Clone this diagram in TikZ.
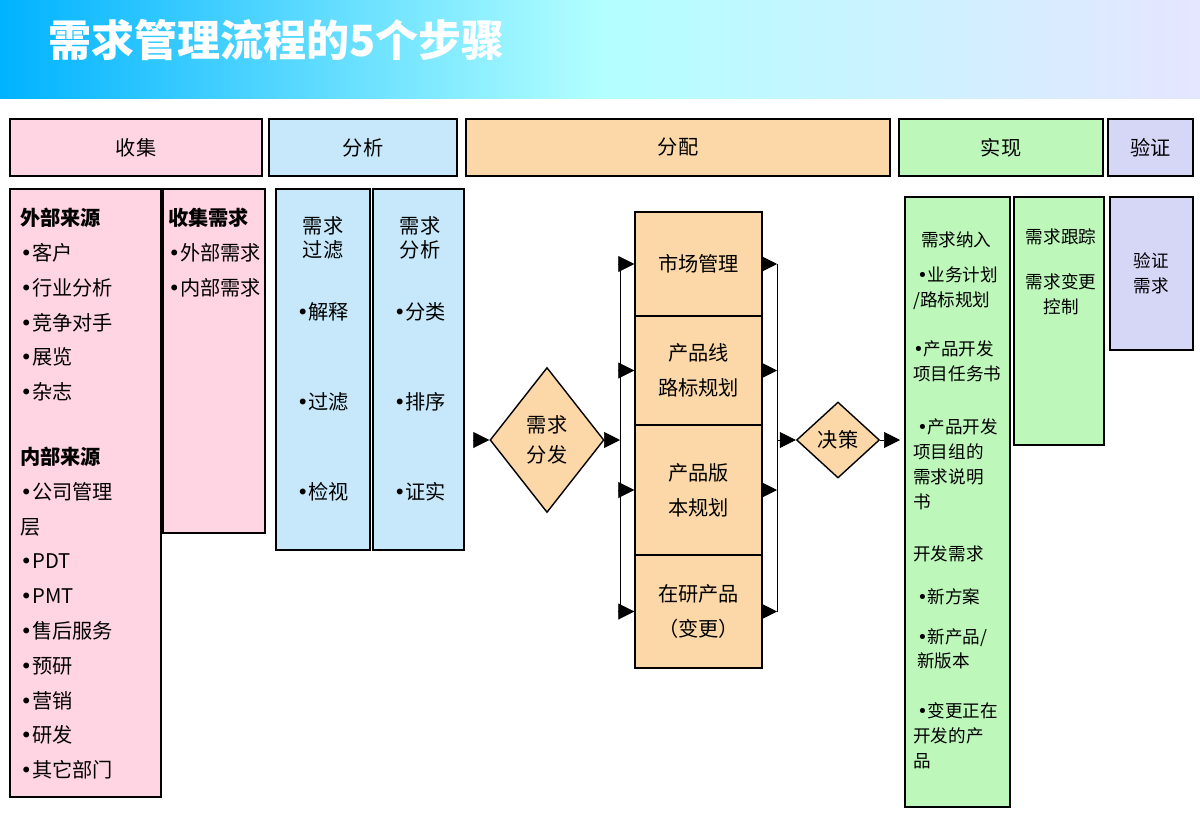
\documentclass[tikz,border=0pt]{standalone}
\usepackage{fontspec}
\setmainfont{Noto Sans CJK SC}
\newfontfamily\dvfont{DejaVu Sans}
\newcommand{\bul}{{\dvfont •}}
\usetikzlibrary{shapes.geometric,arrows.meta}

\definecolor{pinkbox}{HTML}{FFD5E3}
\definecolor{bluebox}{HTML}{C6E8FA}
\definecolor{peachbox}{HTML}{FCD8A8}
\definecolor{greenbox}{HTML}{BDF7BA}
\definecolor{lilacbox}{HTML}{D6D6F7}

\tikzset{
  box/.style={draw, thick, rectangle, inner sep=0pt},
  stepbox/.style={box, minimum height=1.14cm, font=\fontsize{11.5}{14}\selectfont},
  txt/.style={inner sep=0pt, font=\fontsize{11.5}{19.8}\selectfont},
  smalltxt/.style={inner sep=0pt, font=\fontsize{10}{14.2}\selectfont},
  decide/.style={draw, thick, diamond, inner sep=0pt, fill=peachbox, font=\fontsize{11.5}{19}\selectfont},
  flow/.style={->, >={Triangle[length=3.2mm,width=3.2mm]}}
}

\begin{document}
\begin{tikzpicture}[x=0.02cm, y=-0.02cm]
  \useasboundingbox (0,0) rectangle (1200,822);
  % title band
  \shade[left color=cyan!70!blue, right color=blue!10!white, middle color=cyan!30!white] (0,0) rectangle (1200,98);
  \node (title) [anchor=west, text=white, inner sep=0pt, font=\fontsize{24.5}{28}\selectfont\bfseries] at (48,40) {需求管理流程的5个步骤};

  % step headers
  \node (collect) [stepbox, fill=pinkbox, minimum width=5.04cm] at (136,147.5) {收集};
  \node (analyse) [stepbox, fill=bluebox, minimum width=3.76cm] at (363,147.5) {分析};
  \node (assign) [stepbox, fill=peachbox, minimum width=8.48cm] at (678,147.5) {分配};
  \node (realise) [stepbox, fill=greenbox, minimum width=4.08cm] at (1001,147.5) {实现};
  \node (verify) [stepbox, fill=lilacbox, minimum width=1.7cm] at (1150.5,147.5) {验证};

  % collect
  \node (extbox) [box, fill=pinkbox, minimum width=3.02cm, minimum height=12.16cm] at (85.5,493) {};
  \node (exttxt) [txt, anchor=north west, align=left] at (20,208) {\textbf{外部来源}\\\bul 客户\\\bul 行业分析\\\bul 竞争对手\\\bul 展览\\\bul 杂志\\[0.6cm]\textbf{内部来源}\\\bul 公司管理\\层\\\bul PDT\\\bul PMT\\\bul 售后服务\\\bul 预研\\\bul 营销\\\bul 研发\\\bul 其它部门};
  \node (collbox) [box, fill=pinkbox, minimum width=2.04cm, minimum height=6.88cm] at (214,361) {};
  \node (colltxt) [txt, anchor=north west, align=left] at (168,208) {\textbf{收集需求}\\\bul 外部需求\\\bul 内部需求};

  % analyse
  \node (filtbox) [box, fill=bluebox, minimum width=1.88cm, minimum height=7.22cm] at (323,369.5) {};
  \node (filttxt) [txt, anchor=north, align=center, font=\fontsize{11.5}{14}\selectfont] at (323,216) {需求\\过滤\\[0.75cm]\bul 解释\\[1.3cm]\bul 过滤\\[1.3cm]\bul 检视};
  \node (analbox) [box, fill=bluebox, minimum width=1.82cm, minimum height=7.22cm] at (418.5,369.5) {};
  \node (analtxt) [txt, anchor=north, align=center, font=\fontsize{11.5}{14}\selectfont] at (420,216) {需求\\分析\\[0.75cm]\bul 分类\\[1.3cm]\bul 排序\\[1.3cm]\bul 证实};

  % assign
  \node (dispatch) [decide, minimum width=2.28cm, minimum height=2.9cm, align=center] at (547,440) {需求\\[-2pt]分发};
  \node (market) [box, fill=peachbox, minimum width=2.54cm, minimum height=2.08cm, txt, align=center] at (698.5,264) {市场管理};
  \node (roadmap) [box, fill=peachbox, minimum width=2.54cm, minimum height=2.18cm, txt, align=center] at (698.5,370.5) {产品线\\路标规划};
  \node (release) [box, fill=peachbox, minimum width=2.54cm, minimum height=2.6cm, txt, align=center] at (698.5,490) {产品版\\本规划};
  \node (ongoing) [box, fill=peachbox, minimum width=2.54cm, minimum height=2.26cm, txt, align=center] at (698.5,611.5) {在研产品\\（变更）};
  \node (decision) [decide, minimum width=1.66cm, minimum height=1.52cm] at (838,440) {决策};

  \coordinate (inL) at (478,440);
  \coordinate (busL) at (620,440);
  \coordinate (busR) at (777,440);
  \coordinate (outR) at (900,440);

  % arrows
  \draw[flow] (inL) -- (dispatch.west);
  \draw[flow] (dispatch.east) -- (busL);
  \draw (busL |- market.west) -- (busL |- ongoing.west);
  \draw (busR |- market.east) -- (busR |- ongoing.east);
  \foreach \b in {market, roadmap, release, ongoing} {
    \draw[flow] (busL |- \b.west) -- (\b.west);
    \draw[flow] (\b.east) -- (busR |- \b.east);
  }
  \draw[flow] (busR) -- (decision.west);
  \draw[flow] (decision.east) -- (outR);

  % realise
  \node (implbox) [box, fill=greenbox, minimum width=2.1cm, minimum height=12.2cm] at (957.5,502) {};
  \node (impltxt) [smalltxt, anchor=north west, align=left] at (913,231) {\ \ 需求纳入\\[0.2cm]\ \bul 业务计划\\/路标规划\\[0.5cm]\bul 产品开发\\项目任务书\\[0.55cm]\ \bul 产品开发\\项目组的\\需求说明\\书\\[0.55cm]开发需求\\[0.35cm]\ \bul 新方案\\[0.3cm]\ \bul 新产品/\\\ 新版本\\[0.5cm]\ \bul 变更正在\\开发的产\\品};
  \node (trackbox) [box, fill=greenbox, minimum width=1.8cm, minimum height=4.96cm] at (1059,321) {};
  \node (tracktxt) [smalltxt, anchor=north, align=center] at (1061,228) {需求跟踪\\[0.4cm]需求变更\\控制};

  % verify
  \node (verifbox) [box, fill=lilacbox, minimum width=1.66cm, minimum height=3.06cm, smalltxt, align=center] at (1151.5,273.5) {验证\\需求};
\end{tikzpicture}
\end{document}
